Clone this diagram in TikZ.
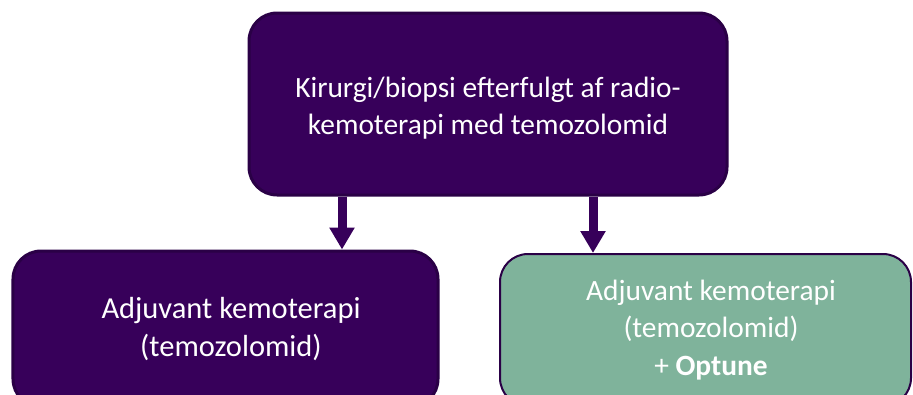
\documentclass[tikz,border=0pt]{standalone}
\usepackage{fontspec}
\setmainfont{Carlito}
\usetikzlibrary{arrows.meta}
\definecolor{pfill}{HTML}{37005A}
\definecolor{pline}{HTML}{2A0046}
\definecolor{gfill}{HTML}{7FB39B}
\tikzset{
  box/.style={draw=pline, fill=pfill, line width=3bp, rounded corners=28bp, inner sep=0pt},
  greenbox/.style={box, fill=gfill, line width=2bp},
  label/.style={text=white, align=center, inner sep=0pt,
    font=\fontsize{29.4bp}{37.5bp}\selectfont},
  biglabel/.style={label, font=\fontsize{30.5bp}{37.5bp}\selectfont},
  flow/.style={draw=pfill, line width=9bp, -{Triangle[width=24bp,length=22bp]}}
}
\begin{document}
\begin{tikzpicture}[x=1bp,y=-1bp]
\useasboundingbox (0,0) rectangle (913,394);
\clip (0,0) rectangle (913,394);
\node[box, minimum width=478bp, minimum height=182bp] (top) at (488,104) {};
\node[label] (toptext) at (488,108)
  {Kirurgi/biopsi efterfulgt af radio-\\kemoterapi med temozolomid};
\node[box, minimum width=425bp, minimum height=156bp] (left) at (225.5,329) {};
\node[biglabel] (lefttext) at (231,329)
  {Adjuvant kemoterapi\\(temozolomid)};
\node[greenbox, minimum width=411bp, minimum height=152bp] (right) at (705.5,330) {};
\node[label] (righttext) at (711,330)
  {Adjuvant kemoterapi\\(temozolomid)\\+ \textbf{Optune}};
\coordinate (la) at (342,0);
\coordinate (ra) at (593,0);
\draw[flow] (top.south -| la) -- (left.north -| la);
\draw[flow] (top.south -| ra) -- (right.north -| ra);
\end{tikzpicture}
\end{document}
